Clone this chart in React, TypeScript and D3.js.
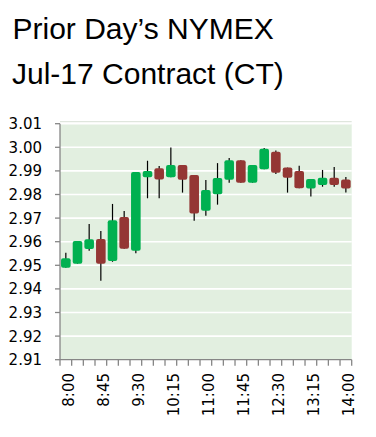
import React from "react";
import * as d3 from "d3";

const times = ["8:00","8:15","8:30","8:45","9:00","9:15","9:30","9:45","10:00","10:15","10:30","10:45","11:00","11:15","11:30","11:45","12:00","12:15","12:30","12:45","13:00","13:15","13:30","13:45","14:00"];
const opens = [2.949,2.9507,2.9569,2.9611,2.9518,2.9705,2.9562,2.9873,2.9911,2.9873,2.9925,2.9883,2.9731,2.9801,2.9863,2.9945,2.985,2.9907,2.9981,2.9914,2.99,2.9825,2.984,2.9871,2.9864];
const closes = [2.953,2.9603,2.961,2.9507,2.9691,2.957,2.9895,2.99,2.9864,2.9925,2.9863,2.9719,2.9819,2.987,2.9945,2.985,2.9925,2.9994,2.9892,2.9871,2.9826,2.9866,2.9871,2.984,2.9825];
const highs = [2.9553,2.9603,2.9675,2.9645,2.976,2.973,2.9895,2.9943,2.9921,2.9999,2.9925,2.9883,2.9861,2.9933,2.9955,2.9945,2.9925,2.9997,2.9986,2.9914,2.9922,2.9866,2.9904,2.9917,2.9874];
const lows = [2.949,2.9507,2.9562,2.9435,2.9515,2.957,2.9551,2.9784,2.9784,2.9873,2.9808,2.9689,2.971,2.9757,2.985,2.985,2.985,2.9907,2.9887,2.9808,2.9826,2.9791,2.9833,2.9833,2.9808];
const yTicks = [2.91,2.92,2.93,2.94,2.95,2.96,2.97,2.98,2.99,3.0,3.01];
const labelEvery = 3;

const GREEN = "#00b050";
const RED = "#943634";
const BG = "#e2efe0";
const AXIS = "#868686";
const TFONT = "'Liberation Sans', Arial, sans-serif";
const FONT = "'DejaVu Sans', sans-serif";

export default function App() {
  const W = 376, H = 437;
  const left = 60, right = 351.7, top = 123.7, bottom = 359.7;
  const x = d3.scaleBand<string>().domain(times).range([left, right]).padding(0);
  const y = d3.scaleLinear().domain([2.91, 3.01]).range([bottom, top]);
  const bw = 9.6;
  const bandTicks = times.map((_, i) => left + i * x.step()).concat([right]);

  return (
    <svg width={W} height={H} style={{ position: "absolute", left: 0, top: 0, background: "#fff" }}>
      <text x={12.5} y={38.5} fontFamily={TFONT} fontSize={30} fill="#000">Prior Day’s NYMEX</text>
      <text x={12} y={83.5} fontFamily={TFONT} fontSize={30} fill="#000">Jul-17 Contract (CT)</text>
      <line x1={left} x2={right} y1={121.7} y2={121.7} stroke="#d8e0d6" strokeWidth={1} />
      <rect x={left} y={top} width={right - left} height={bottom - top} fill={BG} />
      {yTicks.slice(1).map((t) => (
        <line key={"g" + t} x1={left} x2={right} y1={y(t)} y2={y(t)} stroke="#fff" strokeWidth={1.6} />
      ))}
      {times.map((t, i) => {
        const cx = (x(t) as number) + x.bandwidth() / 2;
        const up = closes[i] >= opens[i];
        const col = up ? GREEN : RED;
        const yt = y(Math.max(opens[i], closes[i]));
        const yb = y(Math.min(opens[i], closes[i]));
        return (
          <g key={t}>
            <line x1={cx} x2={cx} y1={y(highs[i])} y2={y(lows[i])} stroke="#000" strokeWidth={1.2} />
            <rect x={cx - bw / 2} y={yt} width={bw} height={Math.max(yb - yt, 1)} rx={2} ry={2} fill={col} />
          </g>
        );
      })}
      <line x1={left} x2={left} y1={top} y2={bottom} stroke={AXIS} strokeWidth={1.3} />
      {yTicks.map((t) => (
        <g key={"y" + t}>
          <line x1={left - 5} x2={left} y1={y(t)} y2={y(t)} stroke={AXIS} strokeWidth={1.3} />
          <text x={42} y={y(t)} dy="0.36em" textAnchor="end" fontFamily={FONT} fontSize={15} fill="#000">{t.toFixed(2)}</text>
        </g>
      ))}
      <line x1={left} x2={right} y1={bottom} y2={bottom} stroke={AXIS} strokeWidth={1.3} />
      {bandTicks.map((tx, i) => (
        <line key={"xt" + i} x1={tx} x2={tx} y1={bottom} y2={bottom + 6} stroke={AXIS} strokeWidth={1.3} />
      ))}
      {times.map((t, i) => i % labelEvery === 0 ? (
        <text key={"xl" + t} transform={`translate(${(x(t) as number) + x.bandwidth() / 2 + 8},373) rotate(-90)`} textAnchor="end" fontFamily={FONT} fontSize={15} fill="#000">{t}</text>
      ) : null)}
    </svg>
  );
}
